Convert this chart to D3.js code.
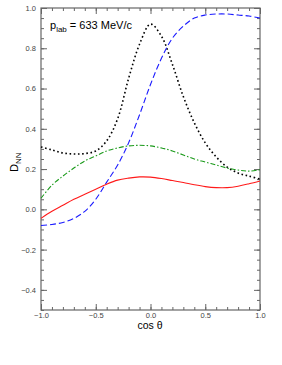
<!DOCTYPE html>
<html lang="en">
<head>
<meta charset="UTF-8">
<title>D_NN</title>
<script src="https://d3js.org/d3.v7.min.js"></script>
<style>
  body { margin: 0; background: #fff; }
  svg text { font-family: "Liberation Sans", Arial, sans-serif; }
</style>
</head>
<body>
<div class="canvas"></div>
<script>
const width = 282, height = 365;
const [mt, mr, mb, ml] = [8, 22, 55, 41];
const gw = width - ml - mr, gh = height - mt - mb;

// data
const cosTheta = [-1.0, -0.9, -0.8, -0.7, -0.6, -0.5, -0.4, -0.3, -0.2, -0.1, 0.0,
                  0.1, 0.2, 0.3, 0.4, 0.5, 0.6, 0.7, 0.8, 0.9, 1.0];
const redSolid = [-0.045, -0.01, 0.02, 0.05, 0.075, 0.10, 0.125, 0.145, 0.155, 0.161, 0.16,
                  0.153, 0.143, 0.133, 0.122, 0.113, 0.108, 0.108, 0.115, 0.127, 0.141];
const blueDashed = [-0.08, -0.075, -0.065, -0.045, -0.01, 0.05, 0.135, 0.22, 0.33, 0.47, 0.62,
                    0.75, 0.85, 0.91, 0.95, 0.965, 0.97, 0.97, 0.965, 0.96, 0.95];
const greenDashDot = [0.055, 0.12, 0.165, 0.205, 0.24, 0.265, 0.29, 0.305, 0.315, 0.318, 0.315,
                      0.305, 0.29, 0.27, 0.25, 0.235, 0.22, 0.205, 0.195, 0.19, 0.197];
const blackDotted = [0.31, 0.295, 0.28, 0.275, 0.277, 0.29, 0.34, 0.45, 0.65, 0.82, 0.92,
                     0.86, 0.72, 0.56, 0.43, 0.33, 0.26, 0.21, 0.18, 0.165, 0.15];
const xTicks = [-1.0, -0.5, 0.0, 0.5, 1.0];
const yTicks = [-0.4, -0.2, 0.0, 0.2, 0.4, 0.6, 0.8, 1.0];

const svg = d3.select('.canvas').append('svg')
  .attr('width', width).attr('height', height);
const g = svg.append('g').attr('transform', `translate(${ml},${mt})`);

const x = d3.scaleLinear().domain([-1, 1]).range([0, gw]);
const y = d3.scaleLinear().domain([-0.5, 1.0]).range([gh, 0]);

const axisCol = '#666';

// minor ticks first, then major with labels
function styleAxis(sel) {
  sel.select('.domain').remove();
  sel.selectAll('line').attr('stroke', axisCol);
  sel.selectAll('text').attr('fill', '#444').style('font-size', '7.5px');
}
const xMinor = d3.range(-1, 1.0001, 0.1);
const yMinor = d3.range(-0.5, 1.0001, 0.05);

g.append('g').attr('transform', `translate(0,${gh})`)
  .call(d3.axisBottom(x).tickValues(xMinor).tickSize(-3).tickFormat('')).call(styleAxis);
g.append('g').attr('transform', `translate(0,${gh})`)
  .call(d3.axisBottom(x).tickValues(xTicks).tickSize(-6).tickPadding(3).tickFormat(d3.format('.1f')))
  .call(styleAxis);
g.append('g')
  .call(d3.axisTop(x).tickValues(xMinor).tickSize(-3).tickFormat('')).call(styleAxis);
g.append('g')
  .call(d3.axisTop(x).tickValues(xTicks).tickSize(-6).tickFormat('')).call(styleAxis);

g.append('g')
  .call(d3.axisLeft(y).tickValues(yMinor).tickSize(-3).tickFormat('')).call(styleAxis);
g.append('g')
  .call(d3.axisLeft(y).tickValues(yTicks).tickSize(-6).tickPadding(5).tickFormat(d3.format('.1f')))
  .call(styleAxis);
g.append('g').attr('transform', `translate(${gw},0)`)
  .call(d3.axisRight(y).tickValues(yMinor).tickSize(-3).tickFormat('')).call(styleAxis);
g.append('g').attr('transform', `translate(${gw},0)`)
  .call(d3.axisRight(y).tickValues(yTicks).tickSize(-6).tickFormat('')).call(styleAxis);

g.append('rect').attr('width', gw).attr('height', gh)
  .attr('fill', 'none').attr('stroke', axisCol).attr('stroke-width', 1.2);

// curves
const series = [
  { vals: blackDotted, color: '#000', dash: '1.6,2.6', w: 1.6 },
  { vals: greenDashDot, color: '#1a9a1a', dash: '5,2,1.5,2', w: 1.1 },
  { vals: blueDashed, color: '#1a1aff', dash: '6,3', w: 1.1 },
  { vals: redSolid, color: '#ff1a1a', dash: null, w: 1.1 }
];
const line = d3.line()
  .x(d => x(d[0])).y(d => y(d[1]))
  .curve(d3.curveCatmullRom.alpha(0.5));

const plot = g.append('g');
series.forEach(s => {
  plot.append('path')
    .datum(cosTheta.map((c, i) => [c, s.vals[i]]))
    .attr('d', line)
    .attr('fill', 'none')
    .attr('stroke', s.color)
    .attr('stroke-width', s.w)
    .attr('stroke-dasharray', s.dash);
});

// labels
const lab = svg.append('text').attr('x', 50).attr('y', 29)
  .style('font-size', '11px').attr('fill', '#000');
lab.append('tspan').text('p');
lab.append('tspan').attr('dy', 3).style('font-size', '8px').text('lab');
lab.append('tspan').attr('dy', -3).text(' = 633 MeV/c');

const yl = svg.append('text')
  .attr('transform', 'translate(18,172) rotate(-90)')
  .style('font-size', '11px').attr('fill', '#000');
yl.append('tspan').text('D');
yl.append('tspan').attr('dy', 3).style('font-size', '8px').text('NN');

svg.append('text').attr('x', 150).attr('y', 329)
  .attr('text-anchor', 'middle')
  .style('font-size', '10.5px').attr('fill', '#000')
  .text('cos θ');
</script>
</body>
</html>
